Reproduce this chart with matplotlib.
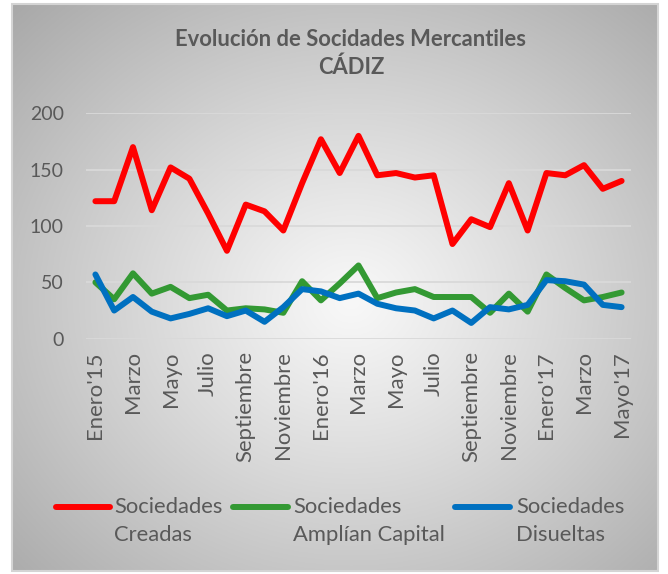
import numpy as np
import matplotlib
matplotlib.use("Agg")
import matplotlib.pyplot as plt
from matplotlib.lines import Line2D
from matplotlib.patches import Rectangle
from matplotlib.font_manager import FontProperties

# ---------------- data ----------------
months = ["Enero'15", "Febrero", "Marzo", "Abril", "Mayo", "Junio", "Julio", "Agosto",
          "Septiembre", "Octubre", "Noviembre", "Diciembre",
          "Enero'16", "Febrero", "Marzo", "Abril", "Mayo", "Junio", "Julio", "Agosto",
          "Septiembre", "Octubre", "Noviembre", "Diciembre",
          "Enero'17", "Febrero", "Marzo", "Abril", "Mayo'17"]
creadas = [122, 122, 170, 114, 152, 142, 111, 78, 119, 113, 96, 138,
           177, 147, 180, 145, 147, 143, 145, 84, 106, 99, 138, 96,
           147, 145, 154, 133, 140]
amplian = [50, 35, 58, 40, 46, 36, 39, 25, 27, 26, 23, 51,
           34, 49, 65, 36, 41, 44, 37, 37, 37, 23, 40, 24,
           57, 45, 34, 37, 41]
disueltas = [57, 25, 37, 24, 18, 22, 27, 20, 25, 15, 28, 44,
             42, 36, 40, 31, 27, 25, 18, 25, 14, 28, 26, 30,
             52, 51, 48, 30, 28]
series_names = ["Sociedades\nCreadas", "Sociedades\nAmplían Capital", "Sociedades\nDisueltas"]
series_colors = ["#FF0000", "#339933", "#0070C0"]
yticks = [0, 50, 100, 150, 200]
title1 = "Evolución de Socidades Mercantiles"
title2 = "CÁDIZ"

W, H = 668, 574
FONT = "Lato"
TXT = "#595959"

fig = plt.figure(figsize=(W / 100, H / 100), dpi=100)
fig.patch.set_facecolor("white")
renderer = fig.canvas.get_renderer()


def fit(s, target_px, weight="normal"):
    fp = FontProperties(family=FONT, size=10, weight=weight)
    w, h, d = renderer.get_text_width_height_descent(s, fp, ismath=False)
    return 10 * target_px / w


def fx(px):
    return px / W


def fy(py):
    return 1 - py / H


# ---------------- background (radial gradient frame) ----------------
L, T, R, B = 12, 4, 658, 571
bg = fig.add_axes([fx(L), fy(B), fx(R - L), (B - T) / H], zorder=0)
gx, gy = np.meshgrid(np.linspace(-1, 1, 400), np.linspace(-1, 1, 360))
cx, cy = 0.05, 0.05
d = np.sqrt(((gx - cx) / 1.05) ** 2 + ((gy - cy) / 1.05) ** 2) / np.sqrt(2)
val = 248 - 80 * np.clip(d, 0, 1.2) ** 1.1
img = np.clip(val, 0, 255) / 255.0
bg.imshow(np.dstack([img, img, img]), aspect="auto", extent=[0, 1, 0, 1], origin="upper")
bg.set_xlim(0, 1)
bg.set_ylim(0, 1)
bg.axis("off")
fig.add_artist(Rectangle((fx(L), fy(B)), fx(R - L), (B - T) / H, transform=fig.transFigure,
                         fill=False, edgecolor="#d4d4d4", lw=1.5, zorder=1))

# ---------------- main axes ----------------
ax = fig.add_axes([fx(86), fy(338.7), fx(631 - 86), (338.7 - 113.3) / H], zorder=2)
ax.set_facecolor("none")
x = np.arange(len(months))
for vals, c in zip([creadas, amplian, disueltas], series_colors):
    ax.plot(x, vals, color=c, lw=4.3, solid_joinstyle="round", solid_capstyle="round", zorder=3)

ax.set_xlim(-0.5, len(months) - 0.5)
ax.set_ylim(0, 200)
ax.set_yticks(yticks)
ax.grid(axis="y", color="#d9d9d9", lw=1.3)
ax.set_axisbelow(True)
for sp in ax.spines.values():
    sp.set_visible(False)

ytick_size = fit("200", 34)
xtick_size = fit("Enero'15", 88)
ax.tick_params(axis="y", length=0, pad=16, labelsize=ytick_size, labelcolor=TXT)
ax.tick_params(axis="x", length=0, pad=9, labelsize=xtick_size, labelcolor=TXT)
ax.set_xticks(x[::2])
ax.set_xticklabels(months[::2], rotation=90, va="top", ha="center")
for lab in ax.get_xticklabels() + ax.get_yticklabels():
    lab.set_fontfamily(FONT)

# ---------------- title ----------------
tsize = fit(title1, 352, "bold")
fig.text(fx(351), fy(40), title1, ha="center", va="center", fontsize=tsize,
         fontweight="bold", color=TXT, family=FONT, zorder=5)
fig.text(fx(351), fy(67), title2, ha="center", va="center", fontsize=tsize,
         fontweight="bold", color=TXT, family=FONT, zorder=5)

# ---------------- legend ----------------
lsize = fit("Sociedades", 109)
leg_line = [(56, 110, 114), (233, 288, 293), (455, 510, 516)]
for (x0, x1, tx), name, c in zip(leg_line, series_names, series_colors):
    fig.add_artist(Line2D([fx(x0), fx(x1)], [fy(507), fy(507)], transform=fig.transFigure,
                          color=c, lw=4.3, solid_capstyle="round", zorder=5))
    first, second = name.split("\n")
    fig.text(fx(tx), fy(507), first, ha="left", va="center", fontsize=lsize,
             color=TXT, family=FONT, zorder=5)
    fig.text(fx(tx), fy(535), second, ha="left", va="center", fontsize=lsize,
             color=TXT, family=FONT, zorder=5)

fig.savefig("out.png", dpi=100)
